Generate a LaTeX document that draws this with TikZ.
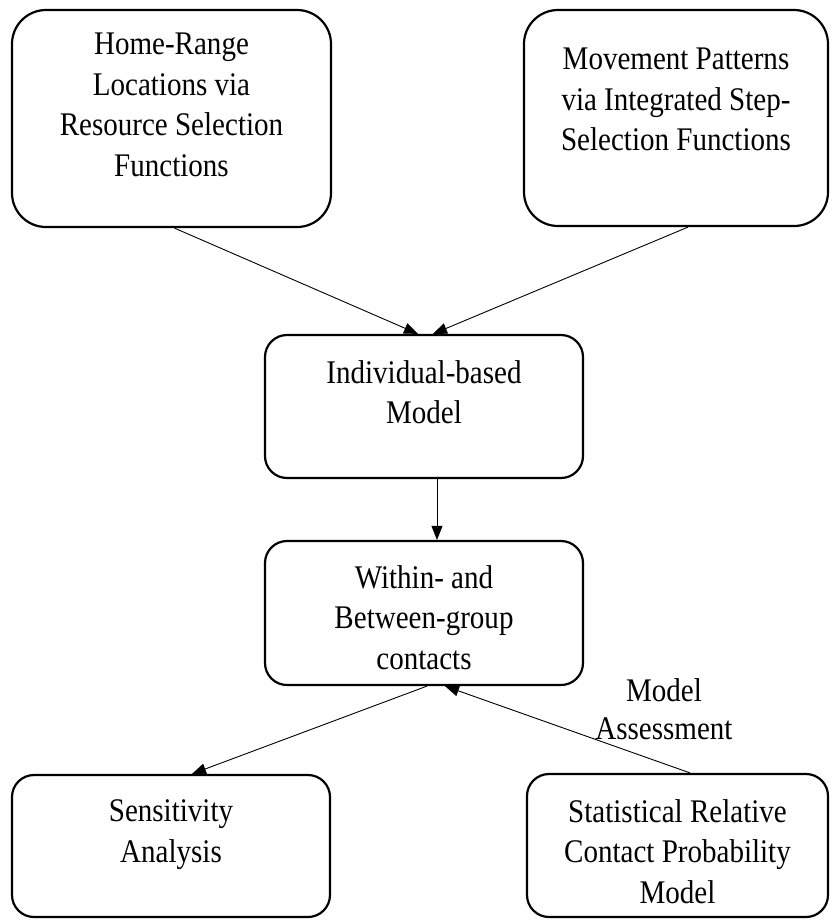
\documentclass[tikz,border=0pt]{standalone}
\usepackage{fontspec}
\setmainfont{Liberation Serif}[FakeStretch=0.88]
\usetikzlibrary{arrows.meta,positioning}
\tikzset{
  box/.style={draw, line width=2.2pt, rounded corners=22pt},
  bigbox/.style={box, rounded corners=34pt},
  txt/.style={align=center, inner sep=0pt, font=\fontsize{33}{40.5}\selectfont},
  link/.style={line width=0.9pt, -{Triangle[length=14pt,width=11pt]}}
}
\begin{document}
\begin{tikzpicture}[x=1pt,y=-1pt]
    \useasboundingbox (0,0) rectangle (832,922);
    % boxes
    \node [bigbox, minimum width=319pt, minimum height=217pt] (home) at (171.5,118.5) {};
    \node [bigbox, minimum width=304pt, minimum height=216pt] (move) at (676,118) {};
    \node [box, minimum width=318pt, minimum height=143pt] (ibm) at (424,406.5) {};
    \node [box, minimum width=318pt, minimum height=144pt] (contacts) at (424,613) {};
    \node [box, minimum width=318pt, minimum height=142pt] (sens) at (171,846) {};
    \node [box, minimum width=301pt, minimum height=143pt] (stat) at (677.5,845.5) {};
    % texts
    \node [txt, below=24pt of home.north] (homet) {Home-Range\\Locations via\\Resource Selection\\Functions};
    \node [txt, below=39pt of move.north] (movet) {Movement Patterns\\via Integrated Step-\\Selection Functions};
    \node [txt, below=26pt of ibm.north] (ibmt) {Individual-based\\Model};
    \node [txt, below=25pt of contacts.north] (contactst) {Within- and\\Between-group\\contacts};
    \node [txt, below=26pt of sens.north] (senst) {Sensitivity\\Analysis};
    \node [txt, below=26pt of stat.north] (statt) {Statistical Relative\\Contact Probability\\Model};
    \node [txt, font=\fontsize{33}{38}\selectfont] (assess) at (664,709) {Model\\Assessment};
    % arrows
    \draw [link] ([xshift=3pt]home.south) -- ([xshift=-6pt]ibm.north);
    \draw [link] ([xshift=12pt]move.south) -- ([xshift=9pt]ibm.north);
    \draw [link] ([xshift=13pt]ibm.south) -- ([xshift=13pt]contacts.north);
    \draw [link] ([xshift=3pt]contacts.south) -- ([xshift=21pt]sens.north);
    \draw [link] ([xshift=12.5pt]stat.north) -- ([xshift=21pt]contacts.south);
\end{tikzpicture}
\end{document}
